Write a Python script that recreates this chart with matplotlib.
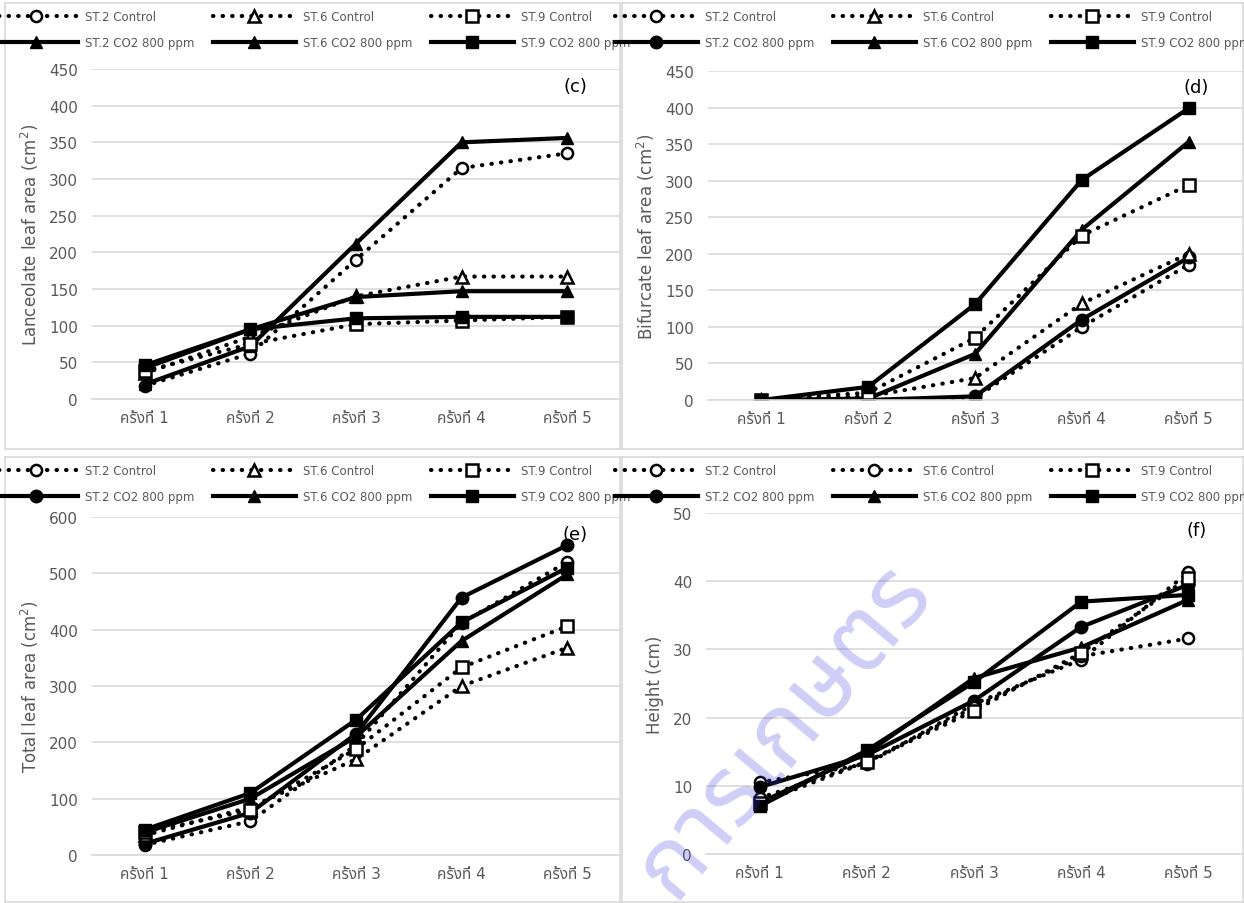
import matplotlib
matplotlib.use("Agg")
import matplotlib.pyplot as plt
from matplotlib import font_manager
from matplotlib.ft2font import FT2Font

# data
categories = ["ครั้งที่ 1", "ครั้งที่ 2", "ครั้งที่ 3", "ครั้งที่ 4", "ครั้งที่ 5"]
series_names = ["ST.2 Control", "ST.2 CO2 800 ppm", "ST.6 Control",
                "ST.6 CO2 800 ppm", "ST.9 Control", "ST.9 CO2 800 ppm"]

lanceolate = {
    "ST.2 Control": [18, 62, 190, 315, 335],
    "ST.2 CO2 800 ppm": [20, 72, 212, 350, 356],
    "ST.6 Control": [35, 85, 140, 167, 167],
    "ST.6 CO2 800 ppm": [42, 95, 139, 147, 147],
    "ST.9 Control": [38, 75, 102, 107, 112],
    "ST.9 CO2 800 ppm": [46, 95, 110, 112, 112],
}
bifurcate = {
    "ST.2 Control": [0, 0, 3, 100, 185],
    "ST.2 CO2 800 ppm": [0, 0, 5, 110, 195],
    "ST.6 Control": [0, 5, 30, 132, 200],
    "ST.6 CO2 800 ppm": [0, 2, 63, 233, 353],
    "ST.9 Control": [0, 10, 85, 225, 294],
    "ST.9 CO2 800 ppm": [0, 18, 131, 301, 399],
}
total = {
    "ST.2 Control": [18, 60, 195, 412, 520],
    "ST.2 CO2 800 ppm": [20, 75, 215, 457, 550],
    "ST.6 Control": [35, 85, 170, 300, 368],
    "ST.6 CO2 800 ppm": [40, 100, 210, 380, 498],
    "ST.9 Control": [40, 80, 188, 333, 406],
    "ST.9 CO2 800 ppm": [45, 110, 240, 413, 510],
}
height = {
    "ST.2 Control": [10.5, 13.2, 22.0, 28.5, 41.3],
    "ST.2 CO2 800 ppm": [9.8, 14.5, 22.5, 33.3, 39.5],
    "ST.6 Control": [8.2, 13.5, 21.5, 29.0, 31.6],
    "ST.6 CO2 800 ppm": [7.5, 14.8, 25.8, 30.3, 37.3],
    "ST.9 Control": [7.5, 13.5, 21.0, 29.5, 40.5],
    "ST.9 CO2 800 ppm": [7.0, 15.2, 25.2, 37.0, 38.0],
}

# a font with Thai glyphs
thai_fonts = []
for f in font_manager.fontManager.ttflist:
    try:
        if ord("ค") in FT2Font(f.fname).get_charmap():
            thai_fonts.append(f.name)
    except Exception:
        pass
thai_fonts = sorted(set(thai_fonts))
pick = [n for n in ("Noto Sans Thai", "Anuphan") if n in thai_fonts] or thai_fonts[:1]
plt.rcParams["font.family"] = ["DejaVu Sans"] + pick[:1]

GRAY = "#595959"
GRID = "#d9d9d9"
W, H = 1244, 904

fig = plt.figure(figsize=(W / 100, H / 100), dpi=100)


def px_rect(x0, x1, y0, y1):
    return [x0 / W, 1 - y1 / H, (x1 - x0) / W, (y1 - y0) / H]


def draw_panel(data, markers, ylabel, ymax, ystep, tag, rect, box):
    # rect / box are (x0, x1, y0, y1) in pixels from the top-left
    left, right, top, bottom = rect
    bx0, bx1, by0, by1 = box
    # chart frame (its own axes, also holds the legend)
    frame = fig.add_axes(px_rect(bx0, bx1, by0, by1))
    frame.set_facecolor("none")
    frame.set_xticks([])
    frame.set_yticks([])
    for s in frame.spines.values():
        s.set_color(GRID)
        s.set_linewidth(1.2)

    ax = fig.add_axes(px_rect(left, right, top, bottom))
    ax.set_facecolor("none")
    x = list(range(1, len(categories) + 1))
    lines = []
    for name in series_names:
        mk = markers[name]
        if "Control" in name:
            ln, = ax.plot(x, data[name], linestyle=(0, (0.1, 2.2)), dash_capstyle="round",
                          color="black", linewidth=3, marker=mk, markersize=8,
                          markerfacecolor="white", markeredgecolor="black",
                          markeredgewidth=1.8, label=name)
        else:
            ln, = ax.plot(x, data[name], linestyle="-", color="black", linewidth=3,
                          marker=mk, markersize=9, markerfacecolor="black",
                          markeredgecolor="black", label=name)
        lines.append(ln)
    ax.set_xlim(0.5, len(categories) + 0.5)
    ax.set_ylim(0, ymax)
    ax.set_yticks(range(0, ymax + 1, ystep))
    ax.set_xticks(x)
    ax.set_xticklabels(categories)
    ax.tick_params(axis="both", length=0, labelsize=11, labelcolor=GRAY, pad=8)
    ax.tick_params(axis="y", pad=10)
    ax.grid(axis="y", color=GRID, linewidth=1.2)
    ax.set_axisbelow(True)
    for s in ["top", "right", "left"]:
        ax.spines[s].set_visible(False)
    ax.spines["bottom"].set_color(GRID)
    ax.spines["bottom"].set_linewidth(1.2)
    ax.set_ylabel(ylabel, color=GRAY, fontsize=12, labelpad=6)
    ax.text(0.915, 0.95, tag, transform=ax.transAxes, fontsize=13, ha="center", va="center")

    frame.legend(handles=lines, ncol=3, loc="upper center", borderaxespad=0.2,
                 frameon=False, fontsize=8.5, labelcolor=GRAY, handlelength=7,
                 handletextpad=0.6, columnspacing=1.6, labelspacing=1.1, numpoints=1)
    return ax


m_c = {"ST.2 Control": "o", "ST.2 CO2 800 ppm": "^", "ST.6 Control": "^",
       "ST.6 CO2 800 ppm": "^", "ST.9 Control": "s", "ST.9 CO2 800 ppm": "s"}
m_std = {"ST.2 Control": "o", "ST.2 CO2 800 ppm": "o", "ST.6 Control": "^",
         "ST.6 CO2 800 ppm": "^", "ST.9 Control": "s", "ST.9 CO2 800 ppm": "s"}
m_f = {"ST.2 Control": "o", "ST.2 CO2 800 ppm": "o", "ST.6 Control": "o",
       "ST.6 CO2 800 ppm": "^", "ST.9 Control": "s", "ST.9 CO2 800 ppm": "s"}

draw_panel(lanceolate, m_c, "Lanceolate leaf area (cm$^2$)", 450, 50, "(c)",
           (92, 620, 70, 400), (5, 620, 4, 450))
draw_panel(bifurcate, m_std, "Bifurcate leaf area (cm$^2$)", 450, 50, "(d)",
           (708, 1242, 72, 401), (622, 1243, 4, 450))
draw_panel(total, m_std, "Total leaf area (cm$^2$)", 600, 100, "(e)",
           (92, 620, 518, 856), (5, 620, 458, 903))
draw_panel(height, m_f, "Height (cm)", 50, 10, "(f)",
           (706, 1242, 514, 855), (622, 1243, 458, 903))

# watermark
fig.text(783 / W, 1 - 730 / H, "การเกษตร", fontsize=70, color="#3a3ae0", alpha=0.25,
         rotation=50, ha="center", va="center")

fig.savefig("out.png", dpi=100)
